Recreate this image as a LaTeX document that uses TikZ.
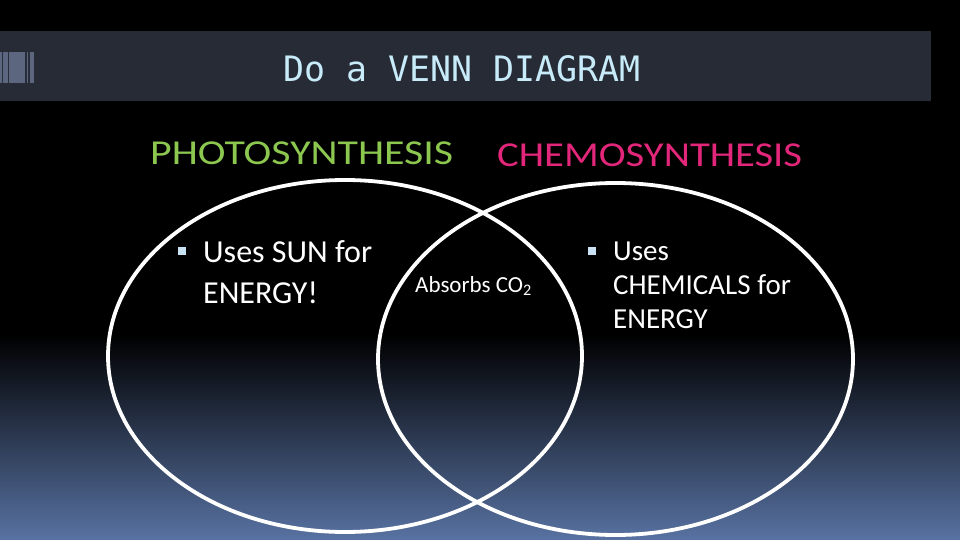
\documentclass[tikz,border=0pt]{standalone}
\usepackage{fontspec}
\usepackage{graphicx}
\usetikzlibrary{shapes.geometric}
\setmainfont{Carlito}
\newfontfamily\monofont{DejaVu Sans Mono}
\definecolor{bandbg}{RGB}{38,43,54}
\definecolor{decolight}{RGB}{92,102,126}
\definecolor{decodark}{RGB}{40,45,58}
\definecolor{titlecol}{RGB}{200,235,250}
\definecolor{photocol}{RGB}{140,200,80}
\definecolor{chemocol}{RGB}{226,38,122}
\definecolor{bulletcol}{RGB}{200,226,244}
\definecolor{bottomcol}{RGB}{88,114,162}
\tikzset{
  vennring/.style={draw=white, line width=3.8pt, ellipse, inner sep=0pt},
  bulletsq/.style={fill=bulletcol, minimum size=8pt, inner sep=0pt},
  bodytext/.style={text=white, inner sep=0pt, anchor=base west},
  heading/.style={inner sep=0pt, anchor=base west},
}
\begin{document}
\begin{tikzpicture}[x=1pt,y=-1pt]
\useasboundingbox (0,0) rectangle (960,540);
% background
\fill[black] (0,0) rectangle (960,540);
\shade[top color=black, bottom color=bottomcol] (0,335) rectangle (960,540);
% title band
\fill[bandbg] (0,31) rectangle (931,101);
\fill[decolight] (0,52) rectangle (34,83);
\foreach \xx in {2.5,8.5,26,29}{\fill[decodark] (\xx-0.6,52) rectangle (\xx+0.6,83);}
\node[heading, text=titlecol] (title) at (283,82)
  {\resizebox{357pt}{\height}{\monofont\fontsize{35}{35}\selectfont Do a VENN DIAGRAM}};
% headings
\node[heading, text=photocol] (photohead) at (150,165)
  {\resizebox{303pt}{\height}{\fontsize{35}{35}\selectfont PHOTOSYNTHESIS}};
\node[heading, text=chemocol] (chemohead) at (497,167)
  {\resizebox{305pt}{\height}{\fontsize{35}{35}\selectfont CHEMOSYNTHESIS}};
% circles
\node[vennring, minimum width=474pt, minimum height=352pt] (photo) at (345,356) {};
\node[vennring, minimum width=475pt, minimum height=352pt] (chemo) at (615.5,359) {};
% texts
\node[bulletsq] (b1) at (182,250.5) {};
\node[bodytext] (suntext) at (203,262)
  {\fontsize{32}{41}\selectfont\begin{tabular}[t]{@{}l@{}}Uses SUN for\\ENERGY!\end{tabular}};
\node[bodytext] (co2) at (415,292)
  {\fontsize{23}{28}\selectfont Absorbs CO\textsubscript{2}};
\node[bulletsq] (b2) at (591.5,250.5) {};
\node[bodytext] (chemtext) at (613,260)
  {\fontsize{29}{34}\selectfont\begin{tabular}[t]{@{}l@{}}Uses\\CHEMICALS for\\ENERGY\end{tabular}};
\end{tikzpicture}
\end{document}
